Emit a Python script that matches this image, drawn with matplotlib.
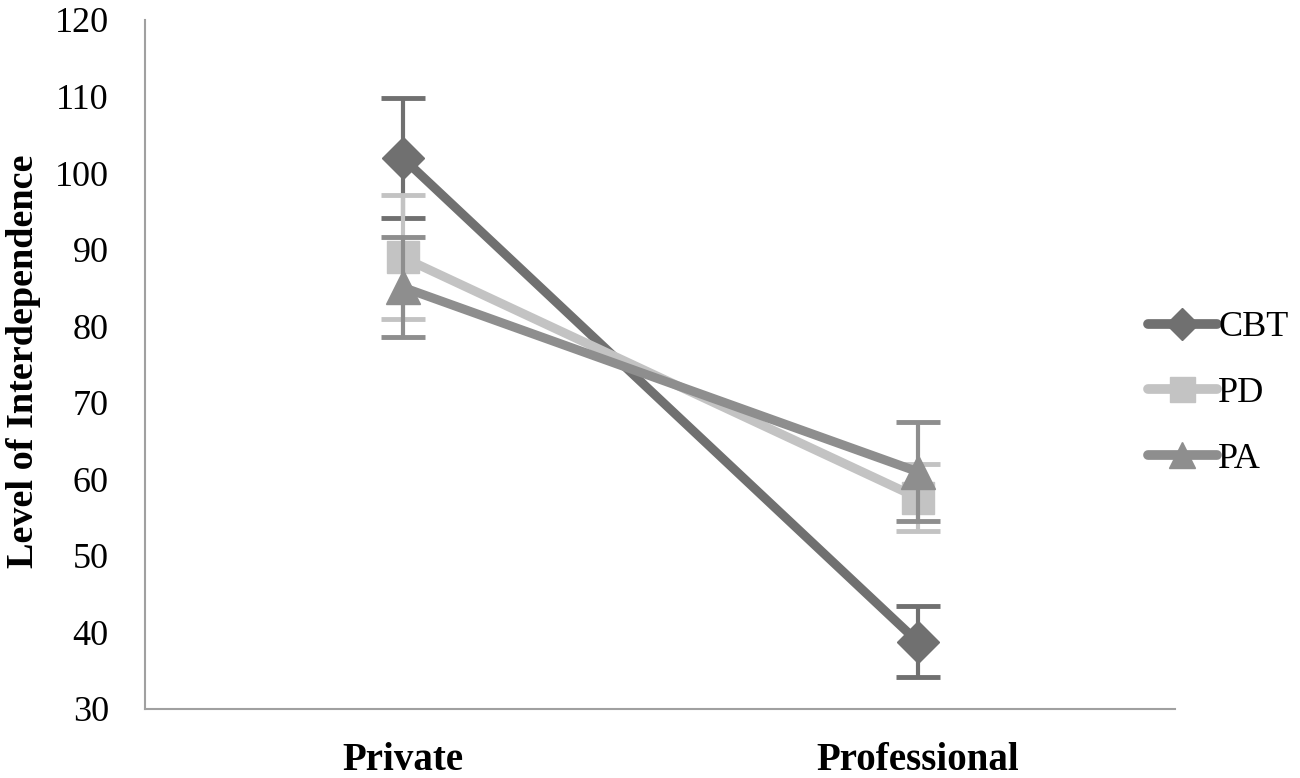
import matplotlib.pyplot as plt
from matplotlib.lines import Line2D

plt.rcParams['font.family'] = ['Liberation Serif', 'DejaVu Serif']

categories = ['Private', 'Professional']
groups = ['CBT', 'PD', 'PA']
means = {
    'CBT': [102.0, 38.8],
    'PD': [89.0, 57.6],
    'PA': [85.1, 61.0],
}
errors = {
    'CBT': [7.8, 4.6],
    'PD': [8.1, 4.4],
    'PA': [6.5, 6.5],
}
colors = {'CBT': '#707070', 'PD': '#c3c3c3', 'PA': '#8e8e8e'}
markers = {'CBT': 'D', 'PD': 's', 'PA': '^'}
msizes = {'CBT': 21, 'PD': 23, 'PA': 24}

fig = plt.figure(figsize=(13, 7.78), dpi=100)
ax = fig.add_axes([0.1115, 0.0887, 0.7925, 0.8856])

x = [0, 1]
for z, g in enumerate(groups):
    ax.errorbar(x, means[g], yerr=errors[g], color=colors[g], lw=6.5,
                marker=markers[g], ms=msizes[g], elinewidth=3,
                capsize=16, capthick=3.5, zorder=3 + z)

ax.set_xlim(-0.5, 1.5)
ax.set_ylim(30, 120)
ax.set_yticks(range(30, 121, 10))
ax.set_xticks(x)
ax.set_xticklabels(categories, fontsize=28, fontweight='bold')
ax.tick_params(axis='y', labelsize=26, length=0, pad=26)
ax.tick_params(axis='x', length=0, pad=24)
fig.text(0.018, (778 - 361) / 778, 'Level of Interdependence', fontsize=27.5,
         fontweight='bold', rotation=90, ha='center', va='center')

for s in ['top', 'right']:
    ax.spines[s].set_visible(False)
for s in ['left', 'bottom']:
    ax.spines[s].set_color('#a0a0a0')
    ax.spines[s].set_linewidth(1.5)

handles = [Line2D([], [], color=colors[g], lw=7, marker=markers[g],
                  ms=msizes[g] - 5, solid_capstyle='round') for g in groups]
leg = ax.legend(handles, groups, loc='center left',
                bbox_to_anchor=(0.942, 0.458), frameon=False, fontsize=26,
                handlelength=1.9, handletextpad=0.05, labelspacing=0.9)

fig.savefig('out.png', dpi=100)
